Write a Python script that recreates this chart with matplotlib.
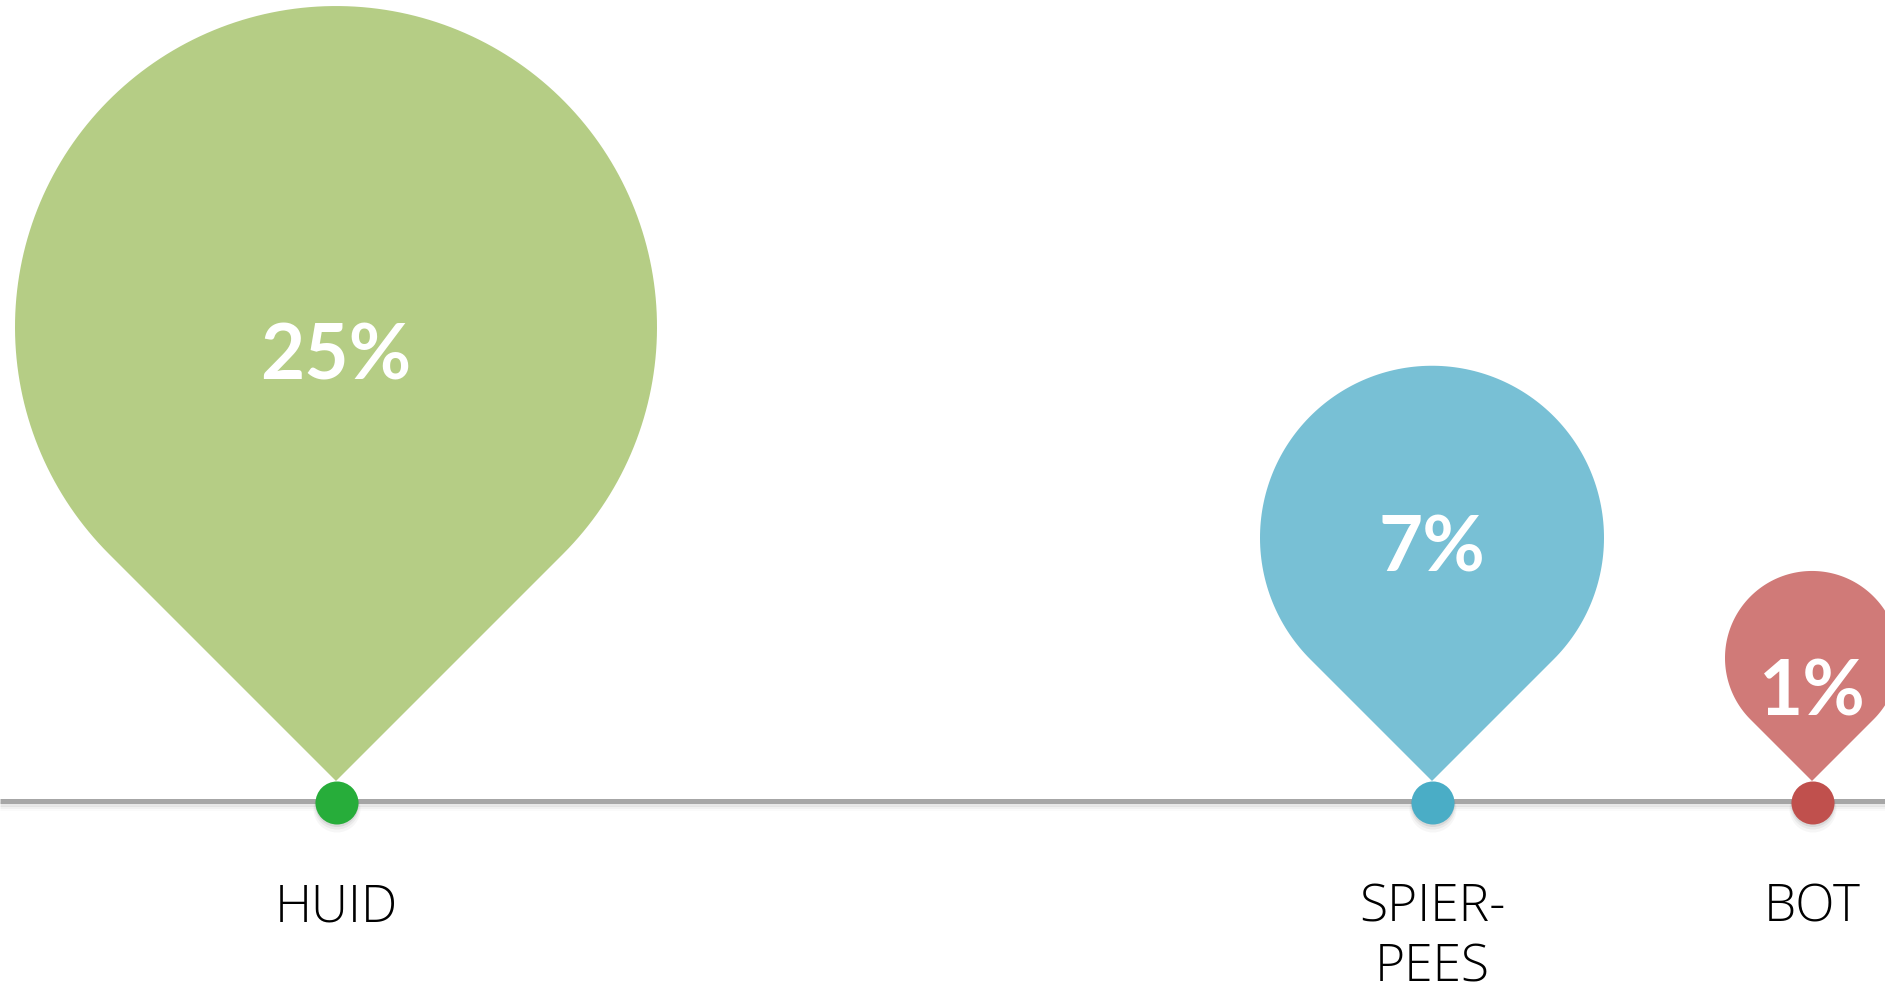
import numpy as np
import matplotlib
matplotlib.use("Agg")
import matplotlib.pyplot as plt
from matplotlib.patches import Polygon, Circle

# data
categories = ["HUID", "SPIER-\nPEES", "BOT"]
values = [25, 7, 1]

# layout / style (pixels, y downward)
x_pos = [336, 1432, 1812]
radii = [321, 172, 87]
line_y = 800.5
dot_y = 803
dot_r = 21.5
pct_base = [380, 572, 716]
label_base = 921
label_step = 60
pin_colors = ["#b5cd85", "#78c0d5", "#d07a78"]
dot_colors = ["#27ad3a", "#4aadc6", "#c0504d"]

W, H = 1885, 994
fig = plt.figure(figsize=(W / 100, H / 100), dpi=100)
ax = fig.add_axes([0, 0, 1, 1])
ax.set_xlim(0, W)
ax.set_ylim(H, 0)
ax.axis("off")

# baseline with soft shadow
for off, a in [(7, 0.04), (5, 0.07), (3, 0.12)]:
    ax.plot([0, W], [line_y + off, line_y + off], color="#808080", alpha=a,
            lw=3.6, solid_capstyle="butt", zorder=1)
ax.plot([0, W], [line_y, line_y], color="#a6a6a6", lw=3.6,
        solid_capstyle="butt", zorder=2)

for i, (cat, val) in enumerate(zip(categories, values)):
    cx, r = x_pos[i], radii[i]
    cy = 781 - r * np.sqrt(2)
    t = np.linspace(np.pi * 0.75, np.pi * 2.25, 200)
    pts = np.column_stack([cx + r * np.cos(t), cy + r * np.sin(t)])
    pts = np.vstack([pts, [cx, cy + r * np.sqrt(2)]])
    ax.add_patch(Polygon(pts, closed=True, facecolor=pin_colors[i],
                         edgecolor="none", zorder=3))
    ax.text(cx, pct_base[i], "%d%%" % val, color="white", fontsize=55,
            fontweight="bold", family="Lato", ha="center", va="baseline",
            zorder=4)

    # dot shadow + dot
    for off, extra, a in [(6, 2, 0.05), (4, 1, 0.08), (2.5, 0, 0.12)]:
        ax.add_patch(Circle((cx + 1, dot_y + off), dot_r + extra,
                            facecolor="#606060", alpha=a, edgecolor="none",
                            zorder=4))
    ax.add_patch(Circle((cx + 1, dot_y), dot_r, facecolor=dot_colors[i],
                        edgecolor="none", zorder=5))

    for j, line in enumerate(cat.split("\n")):
        ax.text(cx, label_base + j * label_step, line, color="black",
                fontsize=37, fontweight="light", family="Open Sans",
                ha="center", va="baseline", zorder=5)

fig.savefig("out.png", dpi=100, facecolor="white")
